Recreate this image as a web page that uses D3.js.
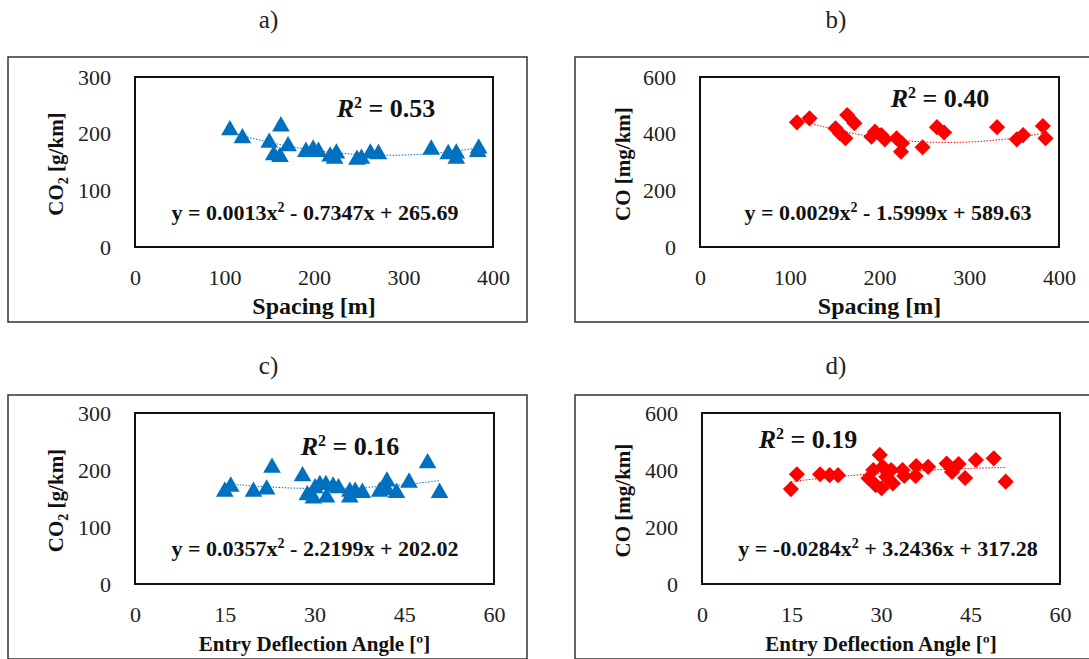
<!DOCTYPE html>
<html>
<head>
<meta charset="utf-8">
<script src="https://cdn.jsdelivr.net/npm/d3@7"></script>
<style>
  body { margin: 0; background: #fff; }
  svg { display: block; }
  text { font-family: "Liberation Serif", "DejaVu Serif", serif; }
  .domain { display: none; }
  .tick line { display: none; }
</style>
</head>
<body>
<div id="chart"></div>
<script>
// spacing vs CO2 (a)
var spacingCO2 = [[106,206],[120,192],[163,213],[150,184],[155,162],[162,159],[171,178],[191,168],[199,172],[205,168],[218,160],[223,156],[225,165],[248,154],[253,156],[263,165],[272,164],[331,172],[350,164],[359,165],[359,156],[383,168],[384,174]];
// spacing vs CO (b)
var spacingCO = [[108,440],[122,454],[164,466],[172,437],[151,419],[156,401],[162,384],[191,389],[195,407],[202,395],[206,380],[219,384],[225,366],[224,336],[248,352],[264,423],[272,404],[331,423],[353,380],[360,395],[382,427],[385,384]];
// angle vs CO2 (c)
var angleCO2 = [[15.0,162],[16.0,171],[19.8,162],[22.0,166],[22.9,204],[28.0,189],[28.8,156],[29.8,150],[30.1,168],[30.9,174],[31.9,174],[32.0,152],[33.1,171],[34.0,168],[35.9,162],[35.9,152],[36.8,162],[38.0,160],[40.9,162],[42.1,180],[42.1,165],[43.7,160],[45.8,178],[48.9,212],[50.9,160]];
// angle vs CO (d)
var angleCO = [[14.9,333],[15.9,385],[19.8,385],[21.4,382],[22.8,382],[27.9,371],[28.7,400],[29.8,453],[29.1,347],[30.1,336],[30.3,411],[30.9,376],[32.0,353],[31.7,400],[33.6,400],[33.9,379],[35.9,414],[35.8,379],[37.9,411],[41.0,423],[41.9,393],[43.0,421],[44.1,372],[45.9,435],[48.9,441],[50.9,359]];

// polynomial fit coefficients [a, b, c] for y = a x^2 + b x + c
var fitA = [0.0013, -0.7347, 265.69];
var fitB = [0.0029, -1.5999, 589.63];
var fitC = [0.0357, -2.2199, 202.02];
var fitD = [-0.0284, 3.2436, 317.28];

var r2Labels = ["0.53", "0.40", "0.16", "0.19"];
var eqLabels = [
  ["y = 0.0013x", " - 0.7347x + 265.69"],
  ["y = 0.0029x", " - 1.5999x + 589.63"],
  ["y = 0.0357x", " - 2.2199x + 202.02"],
  ["y = -0.0284x", " + 3.2436x + 317.28"]
];
var panelTitles = ["a)", "b)", "c)", "d)"];
var xTicksSpacing = [0, 100, 200, 300, 400];
var xTicksAngle = [0, 15, 30, 45, 60];
var yTicksCO2 = [0, 100, 200, 300];
var yTicksCO = [0, 200, 400, 600];

var W = 1089, H = 659;
var serif = '"Liberation Serif", "DejaVu Serif", serif';
var svg = d3.select("#chart").append("svg")
    .attr("width", W).attr("height", H)
    .attr("font-family", serif);

var panels = [
  {data: spacingCO2, fit: fitA, r2: r2Labels[0], eq: eqLabels[0], title: panelTitles[0],
   xd: [0, 400], xt: xTicksSpacing, yd: [0, 300], yt: yTicksCO2, xlab: "Spacing [m]", xlabSize: 24, ylab: "co2",
   box: [135, 77, 493, 247], frame: [8, 57, 527, 322], titleY: 20,
   r2pos: [386, 117], eqpos: [315, 220], color: "#0070C0", shape: "tri"},
  {data: spacingCO, fit: fitB, r2: r2Labels[1], eq: eqLabels[1], title: panelTitles[1],
   xd: [0, 400], xt: xTicksSpacing, yd: [0, 600], yt: yTicksCO, xlab: "Spacing [m]", xlabSize: 24, ylab: "co",
   box: [700, 77, 1059, 247], frame: [575, 57, 1095, 322], titleY: 20,
   r2pos: [940, 107], eqpos: [888, 220], color: "#FF0000", shape: "dia"},
  {data: angleCO2, fit: fitC, r2: r2Labels[2], eq: eqLabels[2], title: panelTitles[2],
   xd: [0, 60], xt: xTicksAngle, yd: [0, 300], yt: yTicksCO2, xlab: "Entry Deflection Angle [º]", xlabSize: 21, ylab: "co2",
   box: [135, 413, 494, 584], frame: [8, 395, 527, 659], titleY: 366,
   r2pos: [350, 455], eqpos: [315, 556], color: "#0070C0", shape: "tri"},
  {data: angleCO, fit: fitD, r2: r2Labels[3], eq: eqLabels[3], title: panelTitles[3],
   xd: [0, 60], xt: xTicksAngle, yd: [0, 600], yt: yTicksCO, xlab: "Entry Deflection Angle [º]", xlabSize: 21, ylab: "co",
   box: [702, 413, 1060, 584], frame: [575, 395, 1095, 659], titleY: 366,
   r2pos: [808, 448], eqpos: [888, 556], color: "#FF0000", shape: "dia"}
];

panels.forEach(function(p) {
  var g = svg.append("g");
  var bx = p.box, fr = p.frame;

  // outer frame
  g.append("rect")
    .attr("x", fr[0]).attr("y", fr[1])
    .attr("width", fr[2] - fr[0]).attr("height", fr[3] - fr[1])
    .attr("fill", "none").attr("stroke", "#333").attr("stroke-width", 1.5);

  // panel title
  svg.append("text")
    .attr("x", (fr[0] + fr[2]) / 2 + 1).attr("y", p.titleY + 8)
    .attr("text-anchor", "middle")
    .style("font-family", serif)
    .style("font-size", "25px").style("fill", "#222")
    .text(p.title);

  var x = d3.scaleLinear().domain(p.xd).range([bx[0], bx[2]]);
  var y = d3.scaleLinear().domain(p.yd).range([bx[3], bx[1]]);

  // axes (labels only)
  var gx = g.append("g")
    .attr("transform", "translate(0," + (bx[3] + 22) + ")")
    .call(d3.axisBottom(x).tickValues(p.xt).tickSize(0).tickPadding(0));
  var gy = g.append("g")
    .attr("transform", "translate(" + (bx[0] - 24) + ",0)")
    .call(d3.axisLeft(y).tickValues(p.yt).tickSize(0).tickPadding(0));
  [gx, gy].forEach(function(a) {
    a.attr("font-family", serif).attr("font-size", 22);
    a.selectAll("text")
      .style("font-family", serif)
      .style("font-size", "22px")
      .style("fill", "#222");
  });

  // plot box
  g.append("rect")
    .attr("x", bx[0]).attr("y", bx[1])
    .attr("width", bx[2] - bx[0]).attr("height", bx[3] - bx[1])
    .attr("fill", "none").attr("stroke", "#111").attr("stroke-width", 2);

  // trend line
  var xs = d3.extent(p.data, function(d) { return d[0]; });
  var pts = d3.range(0, 51).map(function(i) {
    var xv = xs[0] + (xs[1] - xs[0]) * i / 50;
    return [xv, p.fit[0] * xv * xv + p.fit[1] * xv + p.fit[2]];
  });
  g.append("path")
    .datum(pts)
    .attr("fill", "none")
    .attr("stroke", p.color)
    .attr("stroke-width", 1)
    .attr("stroke-dasharray", "1.5,1.5")
    .attr("d", d3.line()
      .x(function(d) { return x(d[0]); })
      .y(function(d) { return y(d[1]); }));

  // markers
  var sym = p.shape == "tri"
    ? d3.symbol().type(d3.symbolTriangle).size(135)
    : d3.symbol().type(d3.symbolSquare).size(130);
  g.selectAll(".pt")
    .data(p.data)
    .enter().append("path")
    .attr("class", "pt")
    .attr("d", sym)
    .attr("fill", p.color)
    .attr("transform", function(d) {
      return "translate(" + x(d[0]) + "," + y(d[1]) + ")" + (p.shape == "dia" ? " rotate(45)" : "");
    });

  // R^2 label
  var r = g.append("text")
    .attr("x", p.r2pos[0]).attr("y", p.r2pos[1])
    .attr("text-anchor", "middle")
    .style("font-family", serif)
    .style("font-size", "26px").style("font-weight", "bold").style("fill", "#111");
  r.append("tspan").style("font-style", "italic").text("R");
  r.append("tspan").attr("dy", -9).style("font-size", "16px").text("2");
  r.append("tspan").attr("dy", 9).text(" = " + p.r2);

  // equation
  var e = g.append("text")
    .attr("x", p.eqpos[0]).attr("y", p.eqpos[1])
    .attr("text-anchor", "middle")
    .style("font-family", serif)
    .style("font-size", "22px").style("font-weight", "bold").style("fill", "#111");
  e.append("tspan").text(p.eq[0]);
  e.append("tspan").attr("dy", -8).style("font-size", "14px").text("2");
  e.append("tspan").attr("dy", 8).text(p.eq[1]);

  // x axis title
  g.append("text")
    .attr("x", (bx[0] + bx[2]) / 2).attr("y", bx[3] + 67)
    .attr("text-anchor", "middle")
    .style("font-family", serif)
    .style("font-size", p.xlabSize + "px").style("font-weight", "bold").style("fill", "#111")
    .text(p.xlab);

  // y axis title
  var yl = g.append("text")
    .attr("transform", "translate(" + (fr[0] + 55) + "," + ((bx[1] + bx[3]) / 2 + 2) + ") rotate(-90)")
    .attr("text-anchor", "middle")
    .style("font-family", serif)
    .style("font-size", "21px").style("font-weight", "bold").style("fill", "#111");
  if (p.ylab == "co2") {
    yl.append("tspan").text("CO");
    yl.append("tspan").attr("dy", 5).style("font-size", "14px").text("2");
    yl.append("tspan").attr("dy", -5).text(" [g/km]");
  } else {
    yl.text("CO [mg/km]");
  }
});
</script>
</body>
</html>
